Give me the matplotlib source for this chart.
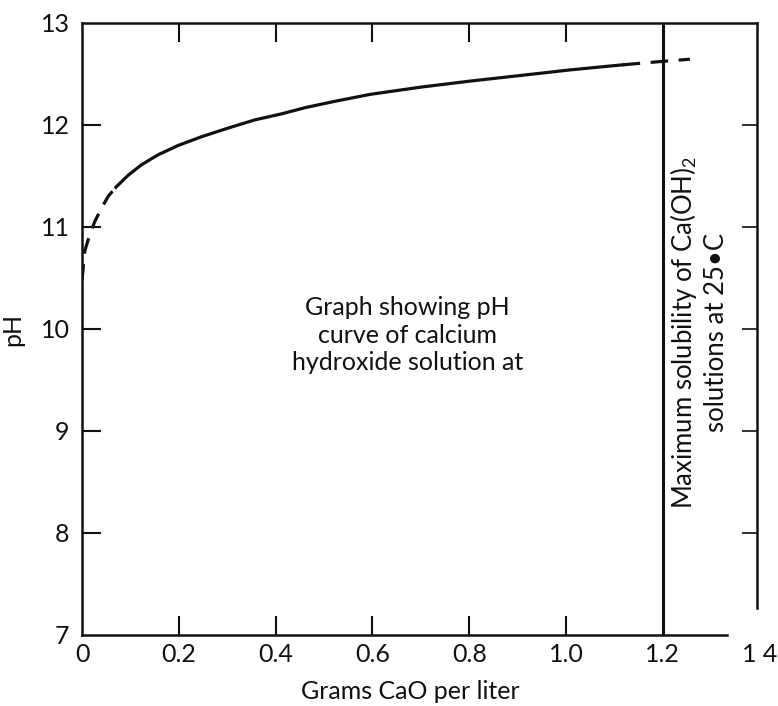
import matplotlib
matplotlib.use('Agg')
import matplotlib.pyplot as plt
from matplotlib.ticker import FixedLocator

# pH curve (g CaO per liter vs pH)
cao = [0.0, 0.006, 0.017, 0.027, 0.041, 0.054, 0.07, 0.096, 0.123, 0.158,
       0.199, 0.247, 0.302, 0.357, 0.413, 0.461, 0.52, 0.595, 0.698, 0.801,
       0.905, 1.008, 1.117, 1.19, 1.256]
ph = [10.48, 10.77, 10.94, 11.06, 11.19, 11.30, 11.39, 11.51, 11.61, 11.71,
      11.80, 11.885, 11.97, 12.05, 12.11, 12.17, 12.23, 12.30, 12.37, 12.43,
      12.485, 12.54, 12.59, 12.62, 12.645]
solid_from = 0.07    # dashed below this
solid_to = 1.117     # dashed above this
max_solubility = 1.2

x_ticks = [0, 0.2, 0.4, 0.6, 0.8, 1.0, 1.2, 1.4]
x_labels = ['0', '0.2', '0.4', '0.6', '0.8', '1.0', '1.2', '1 4']
x_marks = [0.2, 0.4, 0.6, 0.8, 1.0]
y_ticks = [7, 8, 9, 10, 11, 12, 13]
y_marks = [8, 9, 10, 11, 12]

plt.rcParams['font.family'] = ['Lato', 'DejaVu Sans']
plt.rcParams['mathtext.default'] = 'regular'
ink = '#111111'

fig = plt.figure(figsize=(7.78, 7.06), dpi=100)
ax = fig.add_axes([82 / 778, 71 / 706, 1.42 * 484 / 778, 612 / 706])

i0 = cao.index(solid_from)
i1 = cao.index(solid_to)
ax.plot(cao[:i0 + 1], ph[:i0 + 1], color=ink, lw=2.3, ls=(0, (5, 3.3)))
ax.plot(cao[i0:i1 + 1], ph[i0:i1 + 1], color=ink, lw=2.3)
ax.plot(cao[i1:], ph[i1:], color=ink, lw=2.3, ls=(0, (5.5, 3.3)))

ax.axvline(max_solubility, color=ink, lw=2.2)

ax.set_xlim(0, 1.42)
ax.set_ylim(7, 13)

for s in ax.spines.values():
    s.set_linewidth(1.8)
    s.set_color(ink)
ax.spines['right'].set_position(('data', 1.395))
ax.spines['right'].set_bounds(7.26, 13)
ax.spines['top'].set_bounds(0, 1.395)
ax.spines['bottom'].set_bounds(0, 1.333)

ax.set_xticks(x_ticks)
ax.set_xticklabels(x_labels)
ax.set_yticks(y_ticks)
ax.tick_params(which='major', length=0, labelsize=18, colors=ink)
ax.tick_params(axis='x', which='major', pad=6)
ax.tick_params(axis='y', which='major', pad=9)

ax.xaxis.set_minor_locator(FixedLocator(x_marks))
ax.yaxis.set_minor_locator(FixedLocator(y_marks))
ax.xaxis.remove_overlapping_locs = False
ax.yaxis.remove_overlapping_locs = False
ax.tick_params(which='minor', direction='in', length=14, width=1.5, color=ink,
               top=True, bottom=True, left=True, right=True)
for t in ax.yaxis.get_minor_ticks():
    t.tick2line.set_markersize(11)
    t.tick2line.set_markeredgewidth(1.2)

ax.set_ylabel('pH', fontsize=18, color=ink)
ax.yaxis.set_label_coords(-0.084, 0.5)
ax.set_xlabel('Grams CaO per liter', fontsize=18, color=ink, va='center')
ax.xaxis.set_label_coords(0.477, -0.093)

ax.text(0.673, 9.94, 'Graph showing pH\ncurve of calcium\nhydroxide solution at',
        ha='center', va='center', multialignment='center', fontsize=18,
        linespacing=1.25, color=ink)
ax.text(1.273, 9.97, 'Maximum solubility of Ca(OH)$_2$\nsolutions at 25\u2022C',
        rotation=90, ha='center', va='center', multialignment='center',
        fontsize=18.5, linespacing=1.25, color=ink)

fig.savefig('out.png', dpi=100)
